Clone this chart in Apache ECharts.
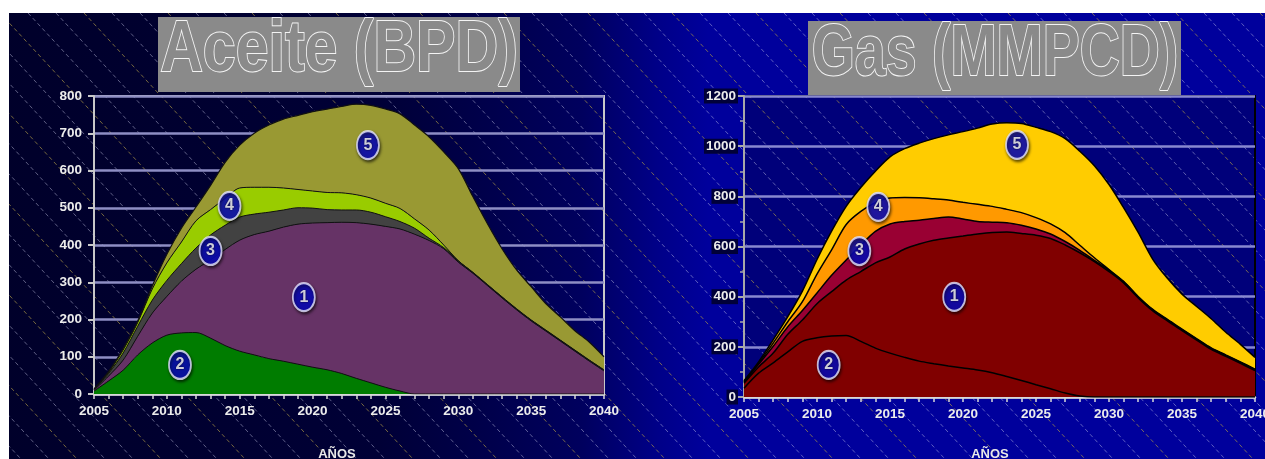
<!DOCTYPE html>
<html>
<head>
<meta charset="utf-8">
<script src="https://cdn.jsdelivr.net/npm/echarts@6/dist/echarts.min.js"></script>
<style>
html, body { margin: 0; padding: 0; background: #ffffff; }
#chart { width: 1265px; height: 459px; }
</style>
</head>
<body>
<div id="chart"></div>
<script>
// Production forecast 2005-2040 by field group (1..5)
const years = ['2005', '2006', '2007', '2008', '2009', '2010', '2011', '2012', '2013', '2014', '2015', '2016',
  '2017', '2018', '2019', '2020', '2021', '2022', '2023', '2024', '2025', '2026', '2027', '2028',
  '2029', '2030', '2031', '2032', '2033', '2034', '2035', '2036', '2037', '2038', '2039', '2040'];

// Aceite (BPD), stacked bottom to top: 2, 1, 3, 4, 5
const oil2 = [8, 35, 64, 105, 137, 158, 164, 165, 150, 130, 115, 105, 95, 88, 80, 72, 65, 55, 42, 30, 18, 8, 0, 0, 0, 0, 0, 0, 0, 0, 0, 0, 0, 0, 0, 0];
const oil1 = [2, 13, 27, 50, 80, 104, 139, 170, 210, 258, 298, 323, 342, 360, 376, 387, 395, 406, 418, 426, 432, 435, 429, 412, 390, 354, 324, 291, 258, 226, 196, 169, 142, 115, 88, 62];
const oil3 = [2, 7, 19, 27, 35, 43, 47, 57, 67, 65, 62, 55, 51, 46, 44, 40, 35, 33, 34, 32, 26, 20, 16, 6, 3, 3, 2, 2, 2, 2, 2, 2, 2, 2, 2, 2];
const oil4 = [1, 3, 8, 10, 30, 47, 58, 73, 68, 72, 78, 72, 67, 59, 49, 46, 46, 46, 41, 38, 36, 35, 25, 22, 7, 1, 1, 1, 1, 1, 1, 1, 1, 1, 1, 1];
const oil5 = [1, 2, 4, 4, 8, 23, 37, 37, 65, 97, 115, 145, 167, 185, 199, 213, 224, 232, 243, 249, 253, 254, 252, 250, 250, 247, 203, 163, 129, 104, 89, 71, 62, 52, 48, 35];

// Gas (MMPCD), stacked bottom to top: 2, 1, 3, 4, 5
const gas2 = [35, 95, 136, 180, 222, 236, 243, 245, 222, 195, 175, 158, 143, 133, 124, 116, 108, 97, 82, 66, 49, 33, 16, 4, 0, 0, 0, 0, 0, 0, 0, 0, 0, 0, 0, 0];
const gas1 = [20, 25, 39, 70, 85, 136, 177, 221, 278, 340, 383, 432, 467, 492, 510, 526, 542, 559, 576, 586, 596, 599, 590, 571, 540, 500, 455, 395, 343, 303, 265, 227, 190, 162, 134, 105];
const gas3 = [5, 10, 27, 30, 38, 43, 65, 80, 105, 125, 132, 110, 95, 87, 84, 68, 50, 41, 37, 33, 25, 18, 14, 10, 5, 5, 4, 4, 4, 4, 4, 4, 4, 4, 4, 4];
const gas4 = [2, 5, 13, 20, 35, 75, 102, 142, 135, 115, 103, 95, 89, 78, 67, 66, 68, 63, 53, 50, 45, 40, 35, 20, 10, 3, 2, 2, 2, 2, 2, 2, 2, 2, 2, 2];
const gas5 = [3, 5, 13, 20, 42, 58, 74, 72, 95, 125, 164, 195, 218, 240, 260, 282, 304, 328, 345, 355, 360, 368, 375, 375, 367, 339, 294, 255, 200, 164, 139, 128, 116, 90, 70, 47];

// Numbered field tags placed in data space
const tagNames = ['1', '2', '3', '4', '5'];
const oilTagYears = [2019.4, 2010.9, 2013.0, 2014.3, 2023.8];
const oilTagValues = [260, 78, 384, 505, 668];
const gasTagYears = [2019.4, 2010.8, 2012.9, 2014.2, 2023.7];
const gasTagValues = [399, 128, 582, 758, 1005];

const titles = ['Aceite (BPD)', 'Gas (MMPCD)'];
const axisTitle = 'AÑOS';

const FONT = '"Liberation Sans", Arial, sans-serif';
const chart = echarts.init(document.getElementById('chart'));

function area(name, values, color, idx, lineColor, lineWidth) {
  return {
    name, type: 'line', stack: 'stack' + idx,
    xAxisIndex: idx, yAxisIndex: idx,
    data: values, smooth: 0.3, symbol: 'none', showSymbol: false,
    lineStyle: { color: lineColor, width: lineWidth },
    areaStyle: { color, opacity: 1 },
    emphasis: { disabled: true }, z: 2
  };
}

// Tags use a hidden numeric year axis laid over each grid
function tags(xs, ys, idx) {
  return {
    type: 'scatter', xAxisIndex: idx + 2, yAxisIndex: idx, z: 5,
    symbol: 'circle', symbolSize: [22, 28],
    data: tagNames.map((n, i) => ({ name: n, value: [xs[i], ys[i]] })),
    itemStyle: {
      color: '#0a0ac4', borderColor: '#e6e6ff', borderWidth: 2,
      shadowColor: 'rgba(0,0,0,0.7)', shadowBlur: 3, shadowOffsetX: 1, shadowOffsetY: 2
    },
    label: {
      show: true, position: 'inside', formatter: p => p.name,
      color: '#ffffff', fontWeight: 'bold', fontSize: 16, fontFamily: FONT,
      textShadowColor: '#000', textShadowBlur: 2
    },
    emphasis: { disabled: true }
  };
}

function yearAxis(idx) {
  return {
    type: 'category', gridIndex: idx, data: years, boundaryGap: false,
    axisLine: { show: true, lineStyle: { color: '#d8d8d8', width: 2.5 } },
    axisTick: { show: true, interval: 0, length: 5, lineStyle: { color: '#d8d8d8', width: 1.5 } },
    splitLine: { show: false },
    axisLabel: {
      interval: 4, color: '#ececec', fontWeight: 'bold', fontSize: 13.5, fontFamily: FONT, margin: 10
    }
  };
}

function tagAxis(idx) {
  return { type: 'value', gridIndex: idx, min: 2005, max: 2040, show: false };
}

// Background: gradient slide, diagonal dashed hatching, title plates
const g = [];
g.push({
  type: 'rect', z: -30, silent: true,
  shape: { x: 0, y: 0, width: 1265, height: 459 },
  style: {
    fill: {
      type: 'linear', x: 0, y: 0, x2: 1, y2: 0,
      colorStops: [
        { offset: 0, color: '#00002a' },
        { offset: 0.3, color: '#000036' },
        { offset: 0.46, color: '#00005e' },
        { offset: 0.52, color: '#000088' },
        { offset: 0.56, color: '#00009c' },
        { offset: 1, color: '#00009c' }
      ]
    }
  }
});
g.push({ type: 'rect', z: -29, silent: true, shape: { x: 744, y: 96, width: 511, height: 301 }, style: { fill: '#00007a' } });
for (let k = -20; k < 50; k++) {
  const x0 = k * 28;
  g.push({
    type: 'line', z: -28, silent: true,
    shape: { x1: x0, y1: 13, x2: x0 + 446 / 1.08, y2: 459 },
    style: {
      stroke: k % 3 === 0 ? 'rgba(170,150,70,0.7)' : 'rgba(210,210,240,0.45)',
      lineWidth: 1, lineDash: [4, 3]
    }
  });
}
g.push({ type: 'rect', z: 10, silent: true, shape: { x: 158, y: 17, width: 362, height: 75 }, style: { fill: '#8a8a8a' } });
g.push({ type: 'rect', z: 10, silent: true, shape: { x: 808, y: 21, width: 373, height: 74 }, style: { fill: '#8a8a8a' } });
g.push({
  type: 'text', z: 11, silent: true, x: 339, y: 51, scaleX: 0.82,
  style: { text: titles[0], x: 0, y: 0, textAlign: 'center', textVerticalAlign: 'middle',
    font: 'bold 72px ' + FONT, fill: '#8a8a8a', stroke: '#f4f4f4', lineWidth: 2 }
});
g.push({
  type: 'text', z: 11, silent: true, x: 995, y: 55, scaleX: 0.77,
  style: { text: titles[1], x: 0, y: 0, textAlign: 'center', textVerticalAlign: 'middle',
    font: 'bold 72px ' + FONT, fill: '#8a8a8a', stroke: '#f4f4f4', lineWidth: 2 }
});
[[337, 454], [990, 454]].forEach(([x, y]) => g.push({
  type: 'text', z: 5, silent: true,
  style: { text: axisTitle, x, y, textAlign: 'center', textVerticalAlign: 'middle',
    font: 'bold 13px ' + FONT, fill: '#e8e8e8' }
}));
g.push({ type: 'rect', z: 20, silent: true, shape: { x: 0, y: 0, width: 1265, height: 13 }, style: { fill: '#ffffff' } });
g.push({ type: 'rect', z: 20, silent: true, shape: { x: 0, y: 0, width: 9, height: 459 }, style: { fill: '#ffffff' } });

chart.setOption({
  animation: false,
  backgroundColor: 'transparent',
  graphic: g,
  grid: [
    { left: 94, top: 96, width: 510, height: 298, show: true, borderColor: '#c8c8c8', borderWidth: 2,
      backgroundColor: 'transparent', containLabel: false, outerBoundsMode: 'none' },
    { left: 744, top: 96, width: 511, height: 301, show: true, borderColor: '#000000', borderWidth: 2,
      backgroundColor: 'transparent', containLabel: false, outerBoundsMode: 'none' }
  ],
  xAxis: [yearAxis(0), yearAxis(1), tagAxis(0), tagAxis(1)],
  yAxis: [
    {
      type: 'value', gridIndex: 0, min: 0, max: 800, interval: 100,
      axisLine: { show: true, lineStyle: { color: '#c8c8c8', width: 2 } },
      axisTick: { show: true, length: 6, lineStyle: { color: '#c8c8c8', width: 2 } },
      splitLine: { show: true, lineStyle: { color: '#8e8ec4', width: 2.5 } },
      axisLabel: { color: '#ececec', fontWeight: 'bold', fontSize: 13.5, fontFamily: FONT,
        margin: 12, formatter: v => String(v) }
    },
    {
      type: 'value', gridIndex: 1, min: 0, max: 1200, interval: 200,
      axisLine: { show: true, lineStyle: { color: '#a8a8a8', width: 2 } },
      axisTick: { show: true, length: 6, lineStyle: { color: '#a8a8a8', width: 2 } },
      minorTick: { show: true, splitNumber: 2, length: 4, lineStyle: { color: '#a8a8a8', width: 1.5 } },
      splitLine: { show: true, lineStyle: { color: '#8888d0', width: 2.5 } },
      axisLabel: { color: '#ececec', fontWeight: 'bold', fontSize: 13.5, fontFamily: FONT,
        margin: 6, backgroundColor: '#000038', padding: [1, 2, 0, 2], formatter: v => String(v) }
    }
  ],
  series: [
    area('2', oil2, '#007c00', 0, '#111111', 1),
    area('1', oil1, '#663366', 0, '#111111', 1),
    area('3', oil3, '#424242', 0, '#111111', 1),
    area('4', oil4, '#99cc00', 0, '#111111', 1),
    area('5', oil5, '#999933', 0, '#111111', 1.2),
    tags(oilTagYears, oilTagValues, 0),
    area('2', gas2, '#800000', 1, '#000000', 1.5),
    area('1', gas1, '#800000', 1, '#000000', 1.5),
    area('3', gas3, '#990033', 1, '#000000', 1.5),
    area('4', gas4, '#ff9900', 1, '#000000', 1.5),
    area('5', gas5, '#ffcc00', 1, '#000000', 1.5),
    tags(gasTagYears, gasTagValues, 1)
  ]
});
</script>
</body>
</html>
